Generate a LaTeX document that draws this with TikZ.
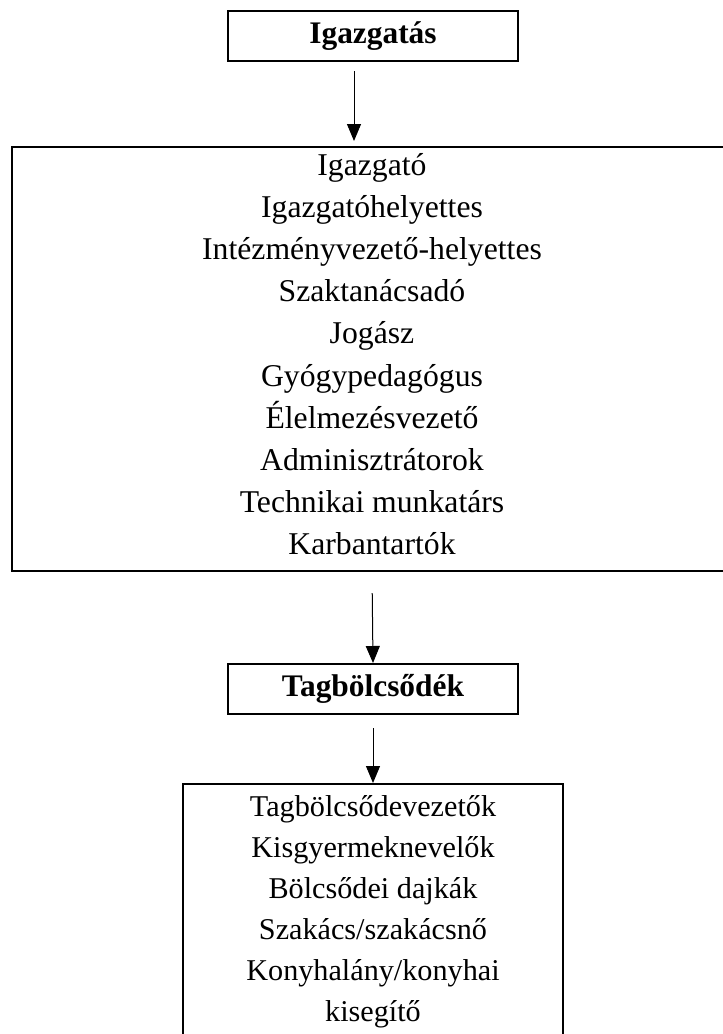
\documentclass[tikz,border=0pt]{standalone}
\usepackage{fontspec}
\setmainfont{Liberation Serif}
\usetikzlibrary{positioning,arrows.meta}

\tikzset{
  unit/.style={draw,line width=1pt,align=center,inner sep=0pt,font=\fontsize{15.85pt}{21.1pt}\selectfont},
  members/.style={unit,font=\fontsize{15.1pt}{20.5pt}\selectfont},
  head/.style={unit,minimum width=145pt,minimum height=25pt,font=\fontsize{15.7pt}{17pt}\selectfont\bfseries},
}

\begin{document}
\begin{tikzpicture}[x=0.5pt,y=-0.5pt,node distance=1cm,on grid,>={Triangle[length=8.5pt,width=7pt]}]
    \useasboundingbox (0,0) rectangle (723,1034);
    \node[head] (igazgatas) at (373,36) {Igazgatás};
    \node[unit,minimum width=360pt,minimum height=212pt] (vezetes) [below = 161.5pt of igazgatas, xshift=-0.5pt]
    {Igazgató\\Igazgatóhelyettes\\Intézményvezető-helyettes\\Szaktanácsadó\\Jogász\\Gyógypedagógus\\Élelmezésvezető\\Adminisztrátorok\\Technikai munkatárs\\Karbantartók\rule[-5pt]{0pt}{0pt}};
    \node[head] (tagbolcsodek) [below = 165pt of vezetes, xshift=0.5pt]{Tagbölcsődék};
    \node[members,minimum width=190pt,minimum height=130.5pt] (tagok) [below = 112.75pt of tagbolcsodek]
    {Tagbölcsődevezetők\\Kisgyermeknevelők\\Bölcsődei dajkák\\Szakács/szakácsnő\\Konyhalány/konyhai\\kisegítő\rule[-6pt]{0pt}{0pt}};
    \path[->,line width=0.5pt]
    ([xshift=-9.5pt]igazgatas.south)
    edge [shorten <=4.5pt,shorten >=2.5pt] ([xshift=-9.5pt]igazgatas.south |- vezetes.north)
    (vezetes.south)
    edge [shorten <=10.5pt] (tagbolcsodek.north)
    (tagbolcsodek.south)
    edge [shorten <=6.5pt] (tagok.north)
    ;
\end{tikzpicture}
\end{document}
